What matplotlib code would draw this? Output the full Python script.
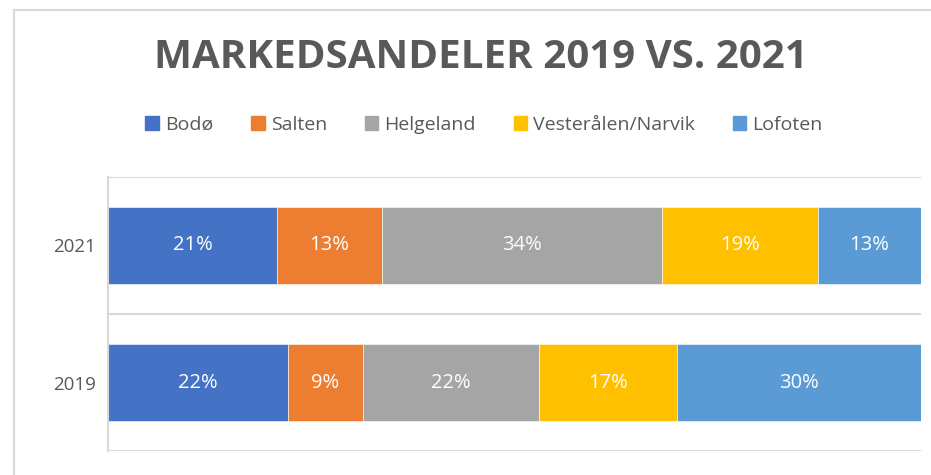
import matplotlib

matplotlib.use("Agg")
import matplotlib.pyplot as plt
from matplotlib.lines import Line2D
from matplotlib.patches import Patch

plt.rcParams["font.family"] = ["Open Sans", "DejaVu Sans"]

years = ["2019", "2021"]
regions = ["Bodø", "Salten", "Helgeland", "Vesterålen/Narvik", "Lofoten"]
share_2019 = [22.1, 9.3, 21.6, 17.0, 30.0]
share_2021 = [20.8, 12.9, 34.4, 19.2, 12.7]
colors = ["#4472C4", "#ED7D31", "#A5A5A5", "#FFC000", "#5B9BD5"]

GRID = "#d9d9d9"
TEXT = "#595959"

fig = plt.figure(figsize=(9.31, 4.75), dpi=100)
ax = fig.add_axes([108 / 931, 24 / 475, 813 / 931, 274 / 475])

shares = [share_2019, share_2021]
left = [0.0, 0.0]
for i, reg in enumerate(regions):
    vals = [s[i] for s in shares]
    bars = ax.barh(range(len(years)), vals, left=left, height=0.56,
                   color=colors[i], edgecolor="white", linewidth=0.4, label=reg)
    for b, v in zip(bars, vals):
        ax.text(b.get_x() + b.get_width() / 2, b.get_y() + b.get_height() / 2,
                f"{v:.0f}%", ha="center", va="center", color="white", fontsize=14.5)
    left = [l + v for l, v in zip(left, vals)]

ax.set_xlim(0, 100)
ax.set_ylim(-0.5, 1.5)
ax.set_xticks([])
ax.set_yticks(range(len(years)))
ax.set_yticklabels(years, fontsize=13.5, color=TEXT)
ax.tick_params(axis="y", length=0, pad=9)
for y in (-0.5, 0.5, 1.5):
    ax.axhline(y, color=GRID, lw=1.5, zorder=0)
for s in ("top", "right", "bottom"):
    ax.spines[s].set_visible(False)
ax.spines["left"].set_color(GRID)
ax.spines["left"].set_linewidth(1.5)

fig.text(481 / 931, 1 - 57 / 475, "MARKEDSANDELER 2019 VS. 2021", ha="center",
         va="center", fontsize=29, fontweight="bold", color=TEXT)

handles = [Patch(color=c) for c in colors]
fig.legend(handles, regions, loc="center", bbox_to_anchor=(484 / 931, 1 - 125 / 475),
           ncol=5, frameon=False, fontsize=14, labelcolor=TEXT,
           handlelength=0.7, handleheight=0.7, handletextpad=0.3, columnspacing=1.95)

# outer chart frame (cut off on the right and bottom)
fig.add_artist(Line2D([14 / 931, 1.0], [1 - 10 / 475] * 2, color=GRID, lw=1.5))
fig.add_artist(Line2D([14 / 931] * 2, [0.0, 1 - 10 / 475], color=GRID, lw=1.5))

fig.savefig("out.png", dpi=100)
